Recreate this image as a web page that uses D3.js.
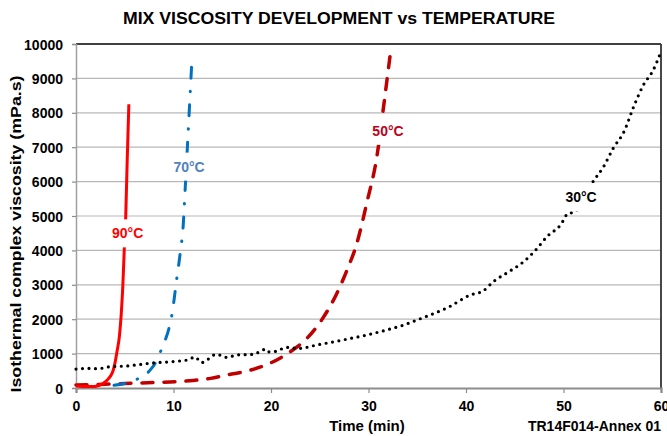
<!DOCTYPE html>
<html>
<head>
<meta charset="utf-8">
<script src="https://cdn.jsdelivr.net/npm/d3@7"></script>
<style>
  html, body { margin: 0; padding: 0; background: #fff; }
  svg { display: block; font-family: "Liberation Sans", Arial, sans-serif; font-weight: bold; }
</style>
</head>
<body>
<svg id="chart" width="667" height="436"></svg>
<script>
// ---- data ----
const xTicks = [0, 10, 20, 30, 40, 50, 60];
const yTicks = [0, 1000, 2000, 3000, 4000, 5000, 6000, 7000, 8000, 9000, 10000];

// 90°C
const t90 = [0, 1, 1.8, 2.4, 2.8, 3.2, 3.5, 3.8, 4.0, 4.2, 4.45, 4.65, 4.8, 4.96, 5.1, 5.25, 5.42];
const v90 = [60, 40, 40, 80, 140, 230, 330, 500, 730, 1050, 1500, 2200, 2950, 4100, 4980, 6600, 8250];

// 70°C
const t70 = [3.9, 5.0, 6.2, 7.0, 7.6, 8.2, 8.7, 9.2, 9.5, 9.85, 10.3, 10.7, 11.0, 11.2, 11.4, 11.6, 11.87];
const v70 = [80, 130, 250, 360, 520, 760, 1080, 1430, 1700, 2150, 3100, 3950, 4750, 5800, 6870, 7960, 9440];

// 50°C
const t50 = [0, 3, 5, 8, 10.3, 12, 13.8, 15.5, 17.9, 19.9, 22, 23.7, 25.2, 26.75, 27.8, 28.8, 29.8, 30.9, 31.5, 32.2];
const v50 = [90, 110, 130, 160, 185, 220, 280, 380, 520, 720, 1060, 1450, 1980, 2750, 3430, 4200, 5350, 6800, 8080, 9630];

// 30°C
const t30 = [0, 1.1, 2.2, 3.5, 5.2, 6.2, 7.6, 10, 11.5, 12.2, 12.9, 14.4, 15.5, 16.5, 18.2, 19.4, 19.6, 20.4, 21.6, 22.8,
             24.7, 27.8, 29.8, 31.9, 33.6, 35, 36.3, 38.2, 40.4, 41.8, 42.8, 44.4, 45.9, 47.3, 48.3, 49.7, 50.5, 51.0,
             53.1, 54.1, 55.1, 56.2, 57.2, 58.2, 59.2, 60];
const v30 = [550, 570, 560, 620, 640, 670, 720, 770, 820, 900, 740, 980, 890, 960, 980, 1120, 1050, 1060, 1180, 1150,
             1250, 1420, 1540, 1690, 1830, 1980, 2120, 2350, 2700, 2830, 3090, 3380, 3670, 4060, 4400, 4740, 5080, 5100,
             6030, 6430, 6970, 7450, 8180, 8810, 9240, 9780];

// series styling + label positions (in data units)
const series = [
  { name: '50°C', t: t50, v: v50, color: '#C00000', width: 3.5, dash: '11,11', cap: 'round',
    label: { t: 32.0, v: 7330, color: '#C0001A' } },
  { name: '70°C', t: t70, v: v70, color: '#0070C0', width: 3, dash: '11,13,0.5,13', cap: 'round',
    label: { t: 11.6, v: 6290, color: '#4F81BD' } },
  { name: '90°C', t: t90, v: v90, color: '#FF0000', width: 3, dash: null, cap: 'butt',
    label: { t: 5.3, v: 4350, color: '#FF0000' } },
  { name: '30°C', t: t30, v: v30, color: '#000000', width: 3.2, dash: '0,6.5', cap: 'round',
    label: { t: 51.8, v: 5400, color: '#000000' } }
];

// ---- layout ----
const svg = d3.select('#chart');
const margin = { top: 44, right: 6, bottom: 48, left: 76 };
const width = 667 - margin.left - margin.right;
const height = 436 - margin.top - margin.bottom;

const x = d3.scaleLinear().domain([0, 60]).range([0, width]);
const y = d3.scaleLinear().domain([0, 10000]).range([height, 0]);

const g = svg.append('g').attr('transform', `translate(${margin.left},${margin.top})`);

// Title
svg.append('text')
  .attr('x', 339).attr('y', 23.5)
  .attr('text-anchor', 'middle')
  .attr('font-size', 16)
  .attr('textLength', 432)
  .attr('lengthAdjust', 'spacingAndGlyphs')
  .text('MIX VISCOSITY DEVELOPMENT vs TEMPERATURE');

// Gridlines
g.append('g')
  .selectAll('line')
  .data(yTicks.filter(d => d > 0 && d < 10000))
  .enter()
  .append('line')
  .attr('x1', 0).attr('x2', width)
  .attr('y1', d => y(d)).attr('y2', d => y(d))
  .attr('stroke', '#b8b8b8')
  .attr('stroke-width', 1.2);

// Frame top / right
g.append('line').attr('x1', 0).attr('x2', width).attr('y1', 0).attr('y2', 0)
  .attr('stroke', '#000').attr('stroke-width', 1.5);
g.append('line').attr('x1', width).attr('x2', width).attr('y1', 0).attr('y2', height)
  .attr('stroke', '#333').attr('stroke-width', 1.8);

// Axes
const xAxis = g.append('g')
  .attr('transform', `translate(0,${height})`)
  .call(d3.axisBottom(x).tickValues(xTicks).tickSize(5).tickPadding(8.5));
const yAxis = g.append('g')
  .call(d3.axisLeft(y).tickValues(yTicks).tickFormat(d3.format('d')).tickSize(4).tickPadding(9));

[xAxis, yAxis].forEach(ax => {
  ax.selectAll('text')
    .attr('font-size', 14)
    .attr('font-family', '"Liberation Sans", Arial, sans-serif')
    .attr('font-weight', 'bold')
    .attr('fill', '#000');
  ax.selectAll('line').attr('stroke', '#8c8c8c').attr('stroke-width', 1.2);
});
xAxis.select('.domain').attr('stroke', '#8c8c8c').attr('stroke-width', 2.2);
yAxis.select('.domain').attr('stroke', '#a0a0a0').attr('stroke-width', 1.5);
yAxis.selectAll('text').attr('dy', '0.36em');

// Axis titles
svg.append('text')
  .attr('x', 367).attr('y', 431)
  .attr('text-anchor', 'middle')
  .attr('font-size', 15)
  .text('Time (min)');

svg.append('text')
  .attr('transform', 'translate(21,234) rotate(-90)')
  .attr('text-anchor', 'middle')
  .attr('font-size', 15)
  .attr('textLength', 317)
  .attr('lengthAdjust', 'spacingAndGlyphs')
  .text('Isothermal complex viscosity (mPa.s)');

svg.append('text')
  .attr('x', 661).attr('y', 431)
  .attr('text-anchor', 'end')
  .attr('font-size', 14)
  .text('TR14F014-Annex 01');

// Curves
const line = d3.line()
  .x(d => x(d[0]))
  .y(d => y(d[1]))
  .curve(d3.curveMonotoneX);

svg.append('clipPath').attr('id', 'plot-clip')
  .append('rect').attr('x', -2).attr('y', -4).attr('width', width + 4).attr('height', height + 4);

const curves = g.append('g').attr('clip-path', 'url(#plot-clip)');

series.forEach(s => {
  const pts = s.t.map((t, i) => [t, s.v[i]]);
  curves.append('path')
    .datum(pts)
    .attr('d', line)
    .attr('fill', 'none')
    .attr('stroke', s.color)
    .attr('stroke-width', s.width)
    .attr('stroke-linecap', s.cap)
    .attr('stroke-linejoin', 'round')
    .attr('stroke-dasharray', s.dash);
});

// Series labels (white boxes behind, like the data-label fill)
const labels = g.append('g')
  .selectAll('g')
  .data(series)
  .enter()
  .append('g');

labels.append('text')
  .attr('x', d => x(d.label.t))
  .attr('y', d => y(d.label.v))
  .attr('text-anchor', 'middle')
  .attr('font-size', 14)
  .attr('fill', d => d.label.color)
  .text(d => d.name);

labels.each(function() {
  const grp = d3.select(this);
  const bb = grp.select('text').node().getBBox();
  grp.insert('rect', 'text')
    .attr('x', bb.x - 3)
    .attr('y', bb.y - 6)
    .attr('width', bb.width + 6)
    .attr('height', bb.height + 12)
    .attr('fill', '#fff');
});
</script>
</body>
</html>
